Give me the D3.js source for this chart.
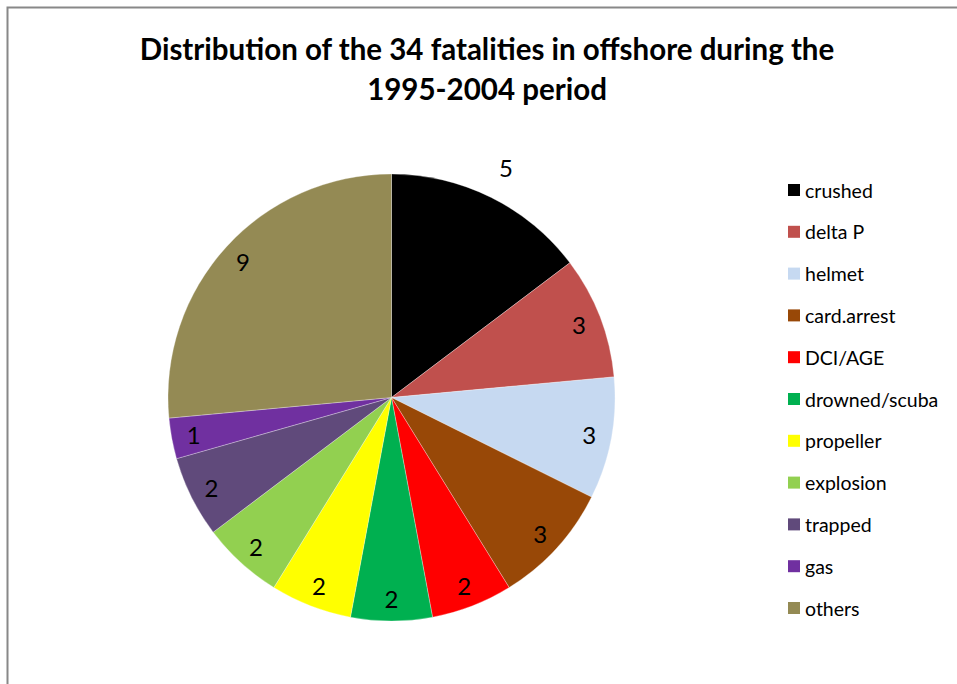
<!DOCTYPE html>
<html>
<head>
<meta charset="utf-8">
<script src="https://cdn.jsdelivr.net/npm/d3@7"></script>
<style>
  html, body { margin: 0; padding: 0; background: #fff; }
  svg { display: block; }
</style>
</head>
<body>
<svg id="chart" width="957" height="684"></svg>
<script>
const categories = ["crushed", "delta P", "helmet", "card.arrest", "DCI/AGE", "drowned/scuba", "propeller", "explosion", "trapped", "gas", "others"];
const values = [5, 3, 3, 3, 2, 2, 2, 2, 2, 1, 9];
const colors = ["#000000", "#C0504D", "#C6D9F1", "#984807", "#FF0000", "#00B050", "#FFFF00", "#92D050", "#604A7B", "#7030A0", "#948A54"];
const labelOutside = [true, false, false, false, false, false, false, false, false, false, false];
const titleLines = ["Distribution of the 34 fatalities in offshore during the", "1995-2004 period"];

const svg = d3.select("#chart");
const font = "Lato, 'Open Sans', sans-serif";

// outer border
svg.append("rect")
  .attr("x", 7.5).attr("y", 7.5)
  .attr("width", 1000).attr("height", 1000)
  .attr("fill", "none").attr("stroke", "#888").attr("stroke-width", 2);

// title
const title = svg.append("text")
  .attr("text-anchor", "middle")
  .attr("font-family", font)
  .attr("font-weight", "bold")
  .attr("font-size", 29.5)
  .attr("fill", "#000");
titleLines.forEach((t, i) => {
  title.append("tspan").attr("x", 487).attr("y", 60 + i * 40).text(t);
});

const cx = 391.5, cy = 397.5, R = 223.5;
const data = categories.map((c, i) => ({ name: c, value: values[i], color: colors[i], outside: labelOutside[i] }));

const pie = d3.pie().sort(null).value(d => d.value);
const arc = d3.arc().innerRadius(0).outerRadius(R);
const arcs = pie(data);

const g = svg.append("g").attr("transform", `translate(${cx},${cy})`);
g.selectAll("path.slice")
  .data(arcs)
  .join("path")
  .attr("class", "slice")
  .attr("d", arc)
  .attr("fill", d => d.data.color)
  .attr("stroke", "#fff")
  .attr("stroke-width", 0.3);

const inArc = d3.arc().innerRadius(R * 0.9).outerRadius(R * 0.9);
const outArc = d3.arc().innerRadius(R * 1.15).outerRadius(R * 1.15);
g.selectAll("text.lbl")
  .data(arcs)
  .join("text")
  .attr("class", "lbl")
  .attr("transform", d => `translate(${(d.data.outside ? outArc : inArc).centroid(d)})`)
  .attr("text-anchor", "middle")
  .attr("dominant-baseline", "central")
  .attr("font-family", font)
  .attr("font-size", 24)
  .attr("fill", "#000")
  .text(d => d.data.value);

// legend
const legendY = d3.scalePoint().domain(categories).range([190, 608]);
const lg = svg.append("g");
const item = lg.selectAll("g.item").data(data).join("g")
  .attr("class", "item")
  .attr("transform", d => `translate(788,${legendY(d.name)})`);
item.append("rect")
  .attr("x", 0).attr("y", -6).attr("width", 12).attr("height", 12)
  .attr("fill", d => d.color);
item.append("text")
  .attr("x", 17).attr("y", 0)
  .attr("dominant-baseline", "central")
  .attr("font-family", font)
  .attr("font-size", 19.5)
  .attr("fill", "#000")
  .text(d => d.name);
</script>
</body>
</html>
